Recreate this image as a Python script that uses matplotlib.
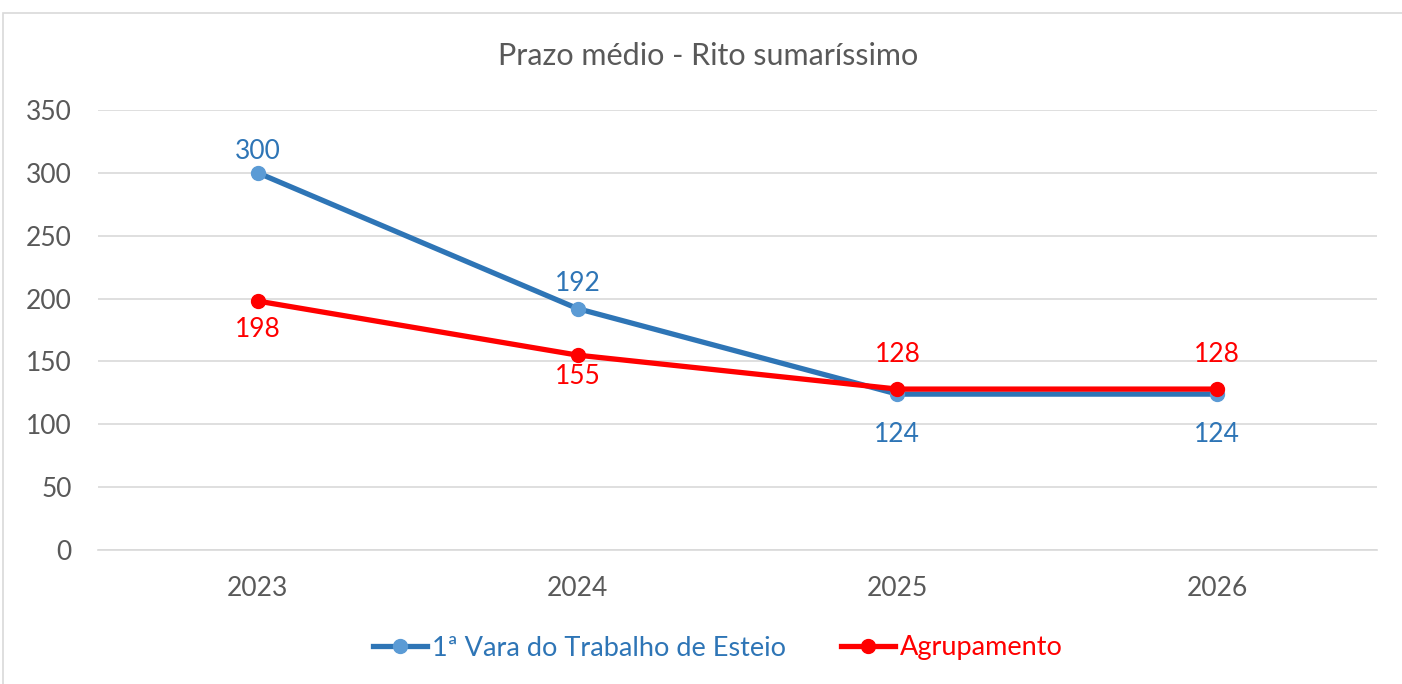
import matplotlib.pyplot as plt

# dados
anos = ["2023", "2024", "2025", "2026"]
vara = [300, 192, 124, 124]
agrup = [198, 155, 128, 128]
nome_vara = "1ª Vara do Trabalho de Esteio"
nome_agrup = "Agrupamento"

plt.rcParams['font.family'] = ['Lato', 'DejaVu Sans']

fig = plt.figure(figsize=(14.02, 6.84), dpi=100)
fig.patches.append(plt.Rectangle((3 / 1402, -0.1), 1.2, 1 - 13 / 684 + 0.1, transform=fig.transFigure,
                                 fill=False, edgecolor="#D9D9D9", linewidth=1.2))
ax = fig.add_axes([98 / 1402, 1 - 550 / 684, (1377 - 98) / 1402, (550 - 110) / 684])

x = list(range(len(anos)))
azul = "#2E75B6"
vermelho = "#FF0000"
ax.plot(x, vara, color=azul, linewidth=3.8, marker="o", markersize=10,
        markerfacecolor="#5B9BD5", markeredgecolor="#5B9BD5", label=nome_vara, zorder=3)
ax.plot(x, agrup, color=vermelho, linewidth=3.8, marker="o", markersize=10,
        markerfacecolor=vermelho, markeredgecolor=vermelho, label=nome_agrup, zorder=4)

# rótulos (deslocamento em pixels, como no Excel)
desl_vara = [21, 25, -40, -40]
desl_agrup = [-28, -21, 35, 35]
for i, v in enumerate(vara):
    ax.annotate(str(v), (i, v), xytext=(0, desl_vara[i] * 0.72), textcoords="offset points",
                ha="center", va="center", color=azul, fontsize=19)
for i, v in enumerate(agrup):
    ax.annotate(str(v), (i, v), xytext=(0, desl_agrup[i] * 0.72), textcoords="offset points",
                ha="center", va="center", color=vermelho, fontsize=19)

ax.set_xlim(-0.5, 3.5)
ax.set_ylim(0, 350)
ax.set_yticks(range(0, 351, 50))
ax.set_xticks(x)
ax.set_xticklabels(anos)
ax.tick_params(axis="both", length=0, labelsize=19, colors="#595959")
ax.tick_params(axis="x", pad=19)
ax.tick_params(axis="y", pad=19)
ax.grid(axis="y", color="#D9D9D9", linewidth=1.2)
ax.set_axisbelow(True)
for s in ["top", "right", "left"]:
    ax.spines[s].set_visible(False)
ax.spines["bottom"].set_color("#D9D9D9")
ax.spines["bottom"].set_linewidth(1.2)

fig.text(708 / 1402, 1 - 56 / 684, "Prazo médio - Rito sumaríssimo", ha="center", va="center",
         fontsize=22, color="#595959")

leg = fig.legend(loc="center", bbox_to_anchor=(718 / 1402, 1 - 648 / 684), ncol=2, frameon=False,
                 fontsize=19.5, handlelength=2.0, columnspacing=2.0, handletextpad=0.2)
for t, c in zip(leg.get_texts(), [azul, vermelho]):
    t.set_color(c)

fig.savefig("out.png", dpi=100)
